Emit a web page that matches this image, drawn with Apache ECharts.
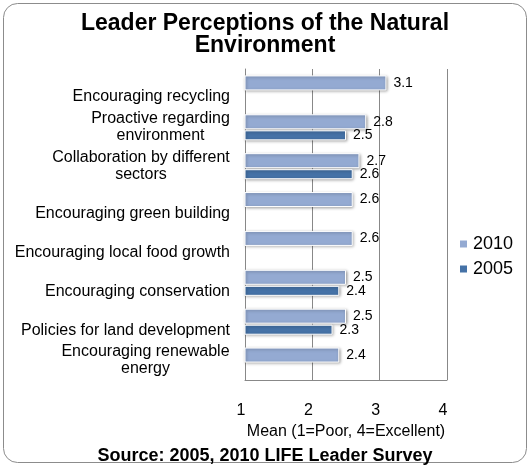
<!DOCTYPE html>
<html>
<head>
<meta charset="utf-8">
<script src="https://cdn.jsdelivr.net/npm/echarts@6/dist/echarts.min.js"></script>
<style>
  html, body { margin: 0; padding: 0; background: #fff; }
  #chart { width: 530px; height: 466px; }
</style>
</head>
<body>
<div id="chart"></div>
<script>
// categories, top to bottom
const categories = [
  'Encouraging recycling',
  'Proactive regarding\nenvironment',
  'Collaboration by different\nsectors',
  'Encouraging green building',
  'Encouraging local food growth',
  'Encouraging conservation',
  'Policies for land development',
  'Encouraging renewable\nenergy'
]
const values2010 = [3.1, 2.8, 2.7, 2.6, 2.6, 2.5, 2.5, 2.4]
const values2005 = [null, 2.5, 2.6, null, null, 2.4, 2.3, null]
const xTicks = [1, 2, 3, 4]

const FONT = '"Liberation Sans", Arial, sans-serif'

// multi-line labels are centred line by line, like the original
const ctx = document.createElement('canvas').getContext('2d')
ctx.font = '16px "Liberation Sans"'
const rich = {}
categories.forEach((c, i) => {
  const w = Math.max(...c.split('\n').map(s => ctx.measureText(s).width))
  rich['c' + i] = { width: Math.ceil(w), align: 'center', fontSize: 16, lineHeight: 17, fontFamily: FONT, color: '#000' }
})

const chart = echarts.init(document.getElementById('chart'))
chart.setOption({
  backgroundColor: '#fff',
  animation: false,
  title: [
    {
      text: 'Leader Perceptions of the Natural\nEnvironment',
      left: 'center', top: 8,
      textStyle: { fontFamily: FONT, fontSize: 23, fontWeight: 'bold', lineHeight: 22, color: '#000' }
    },
    {
      text: 'Source: 2005, 2010 LIFE Leader Survey',
      left: 'center', top: 442,
      textStyle: { fontFamily: FONT, fontSize: 18, fontWeight: 'bold', color: '#000' }
    }
  ],
  graphic: [{
    type: 'rect', silent: true,
    shape: { x: 3.5, y: 3.5, width: 523, height: 459, r: 14 },
    style: { fill: 'none', stroke: '#8c8c8c', lineWidth: 1 }
  }],
  legend: {
    orient: 'vertical', left: 453, top: 230,
    itemWidth: 9, itemHeight: 9, itemGap: 7, icon: 'rect',
    data: ['2010', '2005'],
    textStyle: { fontFamily: FONT, fontSize: 18, color: '#000' }
  },
  grid: { left: 245, right: 83, top: 69, bottom: 86 },
  xAxis: {
    type: 'value', min: xTicks[0], max: xTicks[xTicks.length - 1], interval: 1,
    name: 'Mean (1=Poor, 4=Excellent)', nameLocation: 'middle', nameGap: 44,
    nameTextStyle: { fontFamily: FONT, fontSize: 16, color: '#000' },
    axisLine: { show: true, lineStyle: { color: '#888' } },
    axisTick: { show: false },
    axisLabel: { fontFamily: FONT, fontSize: 16, color: '#000', margin: 23, padding: [0, 8, 0, 0] },
    splitLine: { show: true, lineStyle: { color: '#888' } }
  },
  yAxis: {
    type: 'category', inverse: true, data: categories,
    axisLine: { show: true, lineStyle: { color: '#888' } },
    axisTick: { show: false },
    axisLabel: {
      margin: 15, fontFamily: FONT, fontSize: 16, lineHeight: 17, color: '#000',
      formatter: (v, i) => {
        if (v.indexOf('\n') < 0) return '\n' + v
        return v.split('\n').map(s => '{c' + i + '|' + s + '}').join('\n')
      },
      rich: rich
    }
  },
  series: [
    {
      name: '2010', type: 'bar', data: values2010, barWidth: 15, barGap: '7%',
      itemStyle: { color: '#94aad2', borderColor: '#fff', borderWidth: 1, shadowColor: 'rgba(0,0,0,0.35)', shadowBlur: 3, shadowOffsetX: 1, shadowOffsetY: 1 },
      label: { show: true, position: 'right', distance: 7, fontFamily: FONT, fontSize: 14, color: '#000', formatter: p => p.value.toFixed(1) }
    },
    {
      name: '2005', type: 'bar', data: values2005, barWidth: 10, barGap: '7%',
      itemStyle: { color: '#4572a7', borderColor: '#fff', borderWidth: 1, shadowColor: 'rgba(0,0,0,0.35)', shadowBlur: 3, shadowOffsetX: 1, shadowOffsetY: 1 },
      label: { show: true, position: 'right', distance: 7, fontFamily: FONT, fontSize: 14, color: '#000', formatter: p => p.value == null ? '' : p.value.toFixed(1) }
    }
  ]
})
</script>
</body>
</html>
